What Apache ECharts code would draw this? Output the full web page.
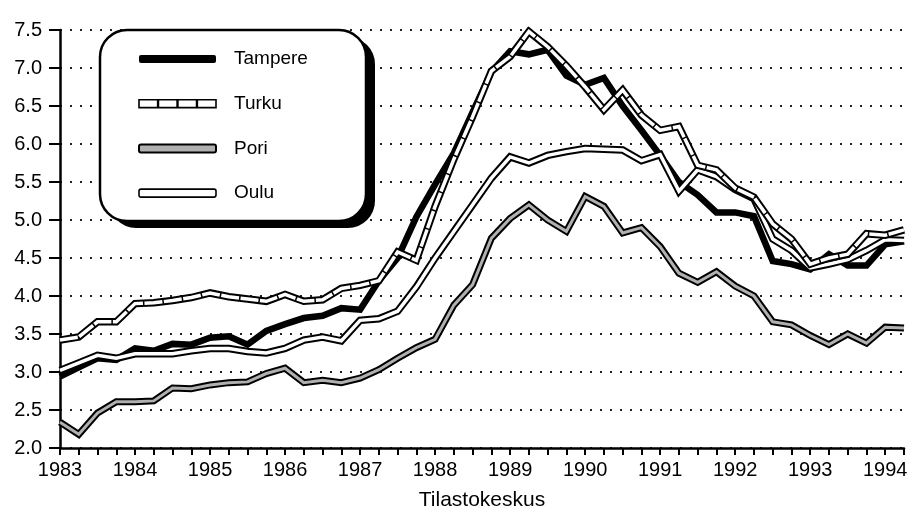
<!DOCTYPE html>
<html>
<head>
<meta charset="utf-8">
<script src="https://cdn.jsdelivr.net/npm/echarts@6/dist/echarts.min.js"></script>
<style>
  html, body { margin: 0; padding: 0; background: #fff; }
  #chart { width: 914px; height: 519px; }
</style>
</head>
<body>
<div id="chart"></div>
<script>
// Quarterly values, 1983 Q1 .. 1994 Q2
const years = ['1983', '1984', '1985', '1986', '1987', '1988', '1989', '1990', '1991', '1992', '1993', '1994'];
const quarters = [];
years.forEach((y) => {
  [1, 2, 3, 4].forEach((q) => {
    if (y === '1994' && q > 2) return;
    quarters.push(y + '/' + q);
  });
});

const tampere = [2.94, 3.06, 3.18, 3.16, 3.31, 3.28, 3.37, 3.36, 3.45, 3.47, 3.36, 3.54, 3.63, 3.71, 3.74, 3.84,
  3.82, 4.2, 4.5, 5.04, 5.47, 5.88, 6.42, 6.95, 7.22, 7.18, 7.24, 6.9, 6.78, 6.87, 6.5, 6.18,
  5.85, 5.5, 5.33, 5.1, 5.1, 5.05, 4.46, 4.42, 4.35, 4.55, 4.4, 4.4, 4.68, 4.72];
const turku = [3.42, 3.46, 3.66, 3.66, 3.9, 3.91, 3.94, 3.98, 4.04, 3.99, 3.96, 3.93, 4.02, 3.93, 3.95, 4.1,
  4.14, 4.2, 4.58, 4.47, 5.18, 5.8, 6.36, 6.96, 7.15, 7.48, 7.28, 7.03, 6.75, 6.45, 6.71, 6.38,
  6.18, 6.23, 5.72, 5.66, 5.42, 5.3, 4.95, 4.75, 4.42, 4.5, 4.55, 4.82, 4.8, 4.87];
const pori = [2.34, 2.18, 2.46, 2.61, 2.61, 2.62, 2.79, 2.78, 2.83, 2.86, 2.87, 2.98, 3.05, 2.86, 2.89, 2.86,
  2.92, 3.03, 3.18, 3.32, 3.43, 3.88, 4.15, 4.76, 5.02, 5.2, 5.0, 4.85, 5.31, 5.18, 4.83, 4.9,
  4.65, 4.3, 4.18, 4.32, 4.13, 4.0, 3.66, 3.62, 3.48, 3.36, 3.5, 3.38, 3.59, 3.58];
const oulu = [3.02, 3.12, 3.22, 3.18, 3.24, 3.24, 3.24, 3.28, 3.31, 3.31, 3.27, 3.25, 3.31, 3.42, 3.46, 3.41,
  3.68, 3.7, 3.8, 4.12, 4.5, 4.85, 5.2, 5.55, 5.83, 5.75, 5.85, 5.9, 5.94, 5.93, 5.92, 5.78,
  5.86, 5.38, 5.66, 5.57, 5.4, 5.28, 4.75, 4.6, 4.37, 4.42, 4.48, 4.6, 4.74, 4.73];

const font = 'Liberation Sans, Arial, sans-serif';

// one line of a double line (outline + inner stroke)
const line = (name, data, color, width, z, type) => ({
  name,
  type: 'line',
  data,
  z,
  symbol: 'none',
  silent: true,
  lineStyle: { color, width, type: type || 'solid', join: 'miter', cap: 'butt' },
  emphasis: { disabled: true },
});

const chart = echarts.init(document.getElementById('chart'));

// legend box: black drop shadow + white rounded frame
const box = { x: 100, y: 30, width: 266, height: 191, r: 27 };

chart.setOption({
  animation: false,
  grid: { left: 60, right: 10, top: 30, bottom: 71 },
  xAxis: {
    type: 'category',
    data: quarters,
    boundaryGap: false,
    name: 'Tilastokeskus',
    nameLocation: 'middle',
    nameGap: 42,
    nameTextStyle: { fontFamily: font, fontSize: 21, color: '#000' },
    axisLine: { lineStyle: { color: '#000', width: 2.5 } },
    axisTick: { interval: 0, length: 7, lineStyle: { color: '#000', width: 2 } },
    axisLabel: {
      interval: 3,
      margin: 12,
      fontFamily: font,
      fontSize: 20,
      color: '#000',
      formatter: (v) => v.slice(0, 4),
    },
  },
  yAxis: {
    type: 'value',
    min: 2,
    max: 7.5,
    interval: 0.5,
    axisLine: { show: true, lineStyle: { color: '#000', width: 2.5 } },
    axisTick: { show: true, length: 11, lineStyle: { color: '#000', width: 2 } },
    axisLabel: {
      margin: 18,
      fontFamily: font,
      fontSize: 20,
      color: '#000',
      formatter: (v) => v.toFixed(1),
    },
    splitLine: { lineStyle: { color: '#222', width: 2, type: [2, 8] } },
  },
  legend: {
    orient: 'vertical',
    left: 138,
    top: 47,
    padding: 0,
    z: 10,
    itemWidth: 77,
    itemHeight: 8,
    itemGap: 20.7,
    selectedMode: false,
    textStyle: { fontFamily: font, fontSize: 19, color: '#000', lineHeight: 20, padding: [4, 0, 0, 13] },
    data: [
      { name: 'Tampere', icon: 'roundRect', itemStyle: { color: '#000', borderWidth: 0 } },
      {
        name: 'Turku',
        icon: 'path://M0 0H24V10H0Z M25 0H49V10H25Z M50 0H74V10H50Z M75 0H99V10H75Z',
        itemStyle: { color: '#fff', borderColor: '#000', borderWidth: 1.6 },
      },
      { name: 'Pori', icon: 'roundRect', itemStyle: { color: '#b0b0b0', borderColor: '#000', borderWidth: 2 } },
      { name: 'Oulu', icon: 'roundRect', itemStyle: { color: '#fff', borderColor: '#000', borderWidth: 1.6 } },
    ],
  },
  graphic: {
    elements: [
      {
        type: 'rect',
        z: 3,
        silent: true,
        shape: { ...box, x: box.x + 9, y: box.y + 7 },
        style: { fill: '#000' },
      },
      {
        type: 'rect',
        z: 4,
        silent: true,
        shape: box,
        style: { fill: '#fff', stroke: '#000', lineWidth: 2.5 },
      },
    ],
  },
  series: [
    line('Pori', pori, '#000', 7, 2),
    line('Pori', pori, '#b0b0b0', 3, 3),
    line('Tampere', tampere, '#000', 6.5, 4),
    line('Oulu', oulu, '#000', 7.5, 5),
    line('Oulu', oulu, '#fff', 3.5, 6),
    line('Turku', turku, '#000', 7.5, 7),
    line('Turku', turku, '#fff', 3.5, 8, [18, 1.5]),
  ],
});
</script>
</body>
</html>
